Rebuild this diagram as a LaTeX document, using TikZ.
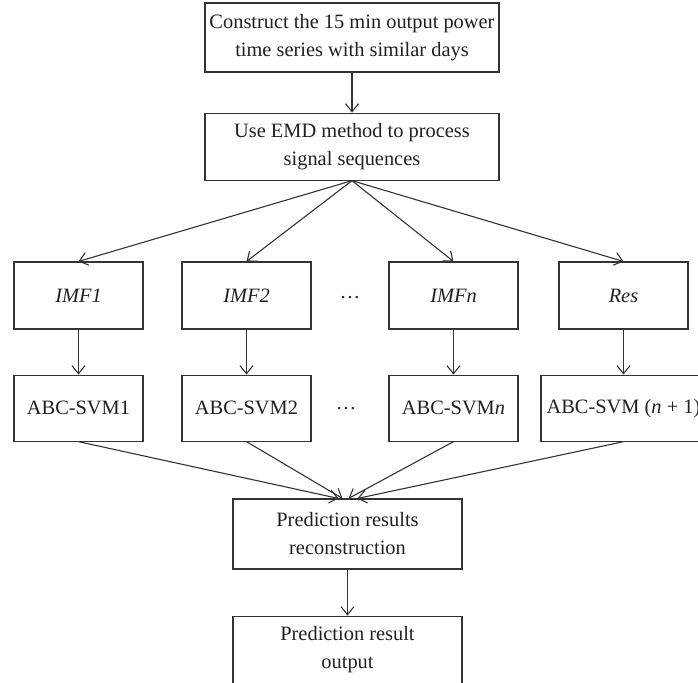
\documentclass[tikz,border=0pt]{standalone}
\usepackage{fontspec}
\setmainfont{Liberation Serif}
\usetikzlibrary{arrows.meta,positioning}

\definecolor{linegray}{HTML}{333333}
\definecolor{textgray}{HTML}{231F20}

\begin{document}
\begin{tikzpicture}[x=0.5pt,y=-0.5pt,
		box/.style={draw=linegray,line width=0.55pt,inner sep=0pt,align=center,
			text=textgray,font=\fontsize{10.2}{14}\selectfont},
		wide/.style={box,minimum width=147pt,minimum height=33.5pt},
		small/.style={box,minimum width=64.5pt,minimum height=33.5pt},
		mid/.style={box,minimum width=114.5pt,minimum height=34pt},
		flow/.style={draw=linegray,line width=0.55pt,-{Straight Barb[length=4pt,width=6.5pt]}},
		dots/.style={text=textgray,font=\fontsize{10.2}{14}\selectfont}]
	\useasboundingbox (0,0) rectangle (698,682);

	\node[wide,minimum height=34.5pt] (top) at (352,37.5) {Construct the 15 min output power\\time series with similar days};
	\node[wide,below=20pt of top] (emd) {Use EMD method to process\\signal sequences};

	\node[small] (imf1) at (78.5,295.5) {\itshape IMF1};
	\node[small] (imf2) at (246.5,295.5) {\itshape IMF2};
	\node[small] (imfn) at (453.5,295.5) {\itshape IMFn};
	\node[small] (res) at (623.5,295.5) {\itshape Res};
	\node[dots] (dotsa) at (350,298) {\dots};

	\node[small,minimum height=33pt,below=22.5pt of imf1] (svm1) {ABC-SVM1};
	\node[small,minimum height=33pt,below=22.5pt of imf2] (svm2) {ABC-SVM2};
	\node[small,minimum height=33pt,below=22.5pt of imfn] (svmn) {ABC-SVM\textit{n}};
	\node[small,minimum height=33pt,minimum width=82.5pt,below=22.5pt of res] (svmr) {ABC-SVM (\textit{n} + 1)};
	\node[dots] (dotsb) at (346,409) {\dots};

	\node[mid,minimum height=35pt] (pred) at (347.5,534) {Prediction results\\reconstruction};
	\node[mid,minimum height=33.5pt,below=23pt of pred] (out) {Prediction result\\output};

	\draw[flow] (top) -- (emd);
	\foreach \n in {imf1,imf2,imfn,res}
		\draw[flow] (emd.south) -- (\n.north);
	\draw[flow] (imf1) -- (svm1);
	\draw[flow] (imf2) -- (svm2);
	\draw[flow] (imfn) -- (svmn);
	\draw[flow] (res) -- (svmr);
	\draw[flow] (svm1.south) -- ([xshift=-4.5pt]pred.north);
	\draw[flow] (svm2.south) -- ([xshift=-2.5pt]pred.north);
	\draw[flow] (svmn.south) -- ([xshift=0.5pt]pred.north);
	\draw[flow] (svmr.south) -- ([xshift=5pt]pred.north);
	\draw[flow] (pred) -- (out);
\end{tikzpicture}
\end{document}
